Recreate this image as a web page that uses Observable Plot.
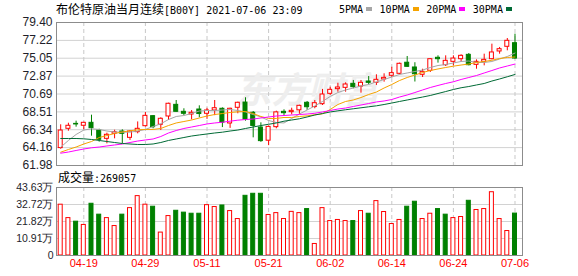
<!DOCTYPE html>
<html><head><meta charset="utf-8">
<script src="https://cdn.jsdelivr.net/npm/d3@7"></script>
<script src="https://cdn.jsdelivr.net/npm/@observablehq/plot@0.6"></script>
<style>
html,body{margin:0;padding:0;background:#fff;}
#wrap{position:relative;width:578px;height:276px;overflow:hidden;background:#fff;}
.t{position:absolute;white-space:nowrap;line-height:14px;color:#000;}
.cjk{font-family:"Noto Sans CJK SC";font-size:12px;}
.mono{font-family:"DejaVu Sans Mono";font-size:10px;}
#legend{position:absolute;left:339px;top:2px;height:14px;display:flex;align-items:center;}
#legend .it{display:flex;align-items:center;margin-right:7.5px;}
#legend .sq{width:6px;height:4px;margin-left:3px;}
#p1,#p2{position:absolute;left:0;}
#p1{top:0;} #p2{top:166px;}
</style></head><body><div id="wrap">
<div id="p1"></div><div id="p2"></div>
<div class="t" style="left:56px;top:2px"><span class="cjk">布伦特原油当月连续</span><span class="mono">[B00Y] 2021-07-06 23:09</span></div>
<div id="legend"></div>
<div class="t" style="left:58px;top:170px"><span class="cjk">成交量</span><span class="mono">:269057</span></div>
</div>
<script>
const dates = ["04-14","04-15","04-16","04-19","04-20","04-21","04-22","04-23","04-26","04-27","04-28","04-29","04-30","05-03","05-04","05-05","05-06","05-07","05-10","05-11","05-12","05-13","05-14","05-17","05-18","05-19","05-20","05-21","05-24","05-25","05-26","05-27","05-28","05-31","06-01","06-02","06-03","06-04","06-07","06-08","06-09","06-10","06-11","06-14","06-15","06-16","06-17","06-18","06-21","06-22","06-23","06-24","06-25","06-28","06-29","06-30","07-01","07-02","07-05","07-06"];
const open = [64.10,66.45,67.05,66.82,67.18,66.24,65.23,65.84,66.12,65.35,66.04,66.77,67.99,66.94,67.95,69.37,68.52,68.19,68.80,68.28,68.68,68.89,67.10,69.01,69.65,68.40,66.60,65.00,66.65,68.52,68.48,68.70,69.62,69.10,69.45,70.71,71.28,71.44,71.93,71.60,72.21,72.05,72.46,72.91,73.15,74.50,73.92,73.03,73.51,75.10,74.20,74.61,74.93,75.46,74.24,74.61,74.93,75.87,76.44,76.88];
const high = [66.94,67.13,67.38,67.25,68.11,66.40,65.92,66.28,66.33,66.24,67.29,68.44,68.07,67.79,69.57,69.90,68.89,68.68,69.25,68.95,69.90,69.00,68.96,69.70,70.23,68.56,67.18,66.80,68.60,68.76,68.96,69.33,69.78,69.90,71.25,71.52,72.00,72.05,72.34,72.34,72.82,73.03,73.15,73.95,74.45,75.26,74.50,73.71,75.01,75.34,75.34,75.34,75.46,75.62,74.85,75.54,76.76,76.36,77.45,77.98];
const low = [63.96,66.16,66.65,66.33,65.55,64.82,64.62,65.23,64.62,65.03,65.84,66.65,66.45,66.24,67.46,68.48,68.07,67.54,67.80,67.60,68.05,66.60,66.50,68.28,67.38,65.35,64.80,64.40,66.45,67.99,68.15,68.19,68.70,68.89,69.29,70.51,70.91,70.91,71.32,70.79,71.81,71.73,72.13,72.66,73.03,73.95,72.15,72.70,73.31,74.45,74.04,74.12,74.53,74.12,73.71,74.12,74.85,75.54,75.95,74.93];
const close = [66.24,66.82,66.98,67.18,66.53,65.11,65.72,66.04,65.84,66.12,66.45,68.03,66.65,67.67,69.50,68.52,68.28,68.40,68.25,68.68,68.96,67.20,68.89,69.62,67.58,66.80,64.95,66.68,68.45,68.35,68.64,69.25,69.08,69.57,70.63,71.20,71.48,71.85,71.52,72.05,72.05,72.42,72.66,73.23,74.37,74.00,73.10,73.39,74.93,74.93,74.73,75.01,75.34,74.20,74.61,74.85,75.75,76.15,77.17,75.01];
const ma5 = [64.21,65.03,65.76,66.30,66.45,66.37,66.18,66.06,66.04,66.04,66.18,66.37,66.73,67.06,67.58,67.95,68.07,68.31,68.62,68.68,68.68,68.74,68.80,68.68,68.50,68.19,67.89,67.46,67.22,67.16,67.71,68.25,68.74,69.23,69.78,70.39,70.87,71.18,71.42,71.66,71.85,72.15,72.46,72.76,73.07,73.25,73.43,73.61,73.92,74.16,74.28,74.47,74.65,74.71,74.53,74.53,74.65,74.95,75.26,75.68];
const ma10 = [63.60,63.93,64.23,64.60,64.90,65.39,65.63,65.88,66.06,66.21,66.33,66.37,66.37,66.49,66.85,67.16,67.34,67.52,67.77,68.01,68.19,68.31,68.44,68.52,68.56,68.31,67.95,67.71,67.71,67.83,67.83,67.95,68.03,68.16,68.28,68.80,69.41,69.78,69.96,70.26,70.63,70.93,71.42,71.85,72.33,72.70,73.00,73.31,73.55,73.74,73.92,74.08,74.22,74.34,74.53,74.65,74.80,75.01,75.14,75.20];
const ma20 = [63.48,63.62,63.81,63.99,64.14,64.23,64.36,64.48,64.60,64.78,64.96,65.09,65.21,65.51,65.94,66.24,66.49,66.67,66.85,67.04,67.16,67.25,67.38,67.50,67.58,67.64,67.77,67.89,68.01,68.07,68.13,68.19,68.25,68.34,68.50,68.68,68.86,68.98,69.17,69.35,69.53,69.72,69.84,70.02,70.32,70.57,70.87,71.18,71.48,71.73,71.97,72.18,72.46,72.70,72.94,73.25,73.55,73.86,74.10,74.34];
const ma30 = [65.27,65.27,65.27,65.23,65.15,65.03,64.90,64.78,64.66,64.60,64.54,64.54,64.60,64.78,65.03,65.21,65.39,65.57,65.70,65.82,65.94,66.04,66.18,66.30,66.49,66.67,66.85,67.00,67.16,67.38,67.52,67.67,67.89,68.13,68.31,68.50,68.64,68.77,68.89,69.01,69.13,69.25,69.41,69.59,69.78,69.96,70.14,70.32,70.51,70.75,70.99,71.24,71.45,71.60,71.79,71.97,72.27,72.52,72.79,73.07];
const volume = [32.6,24.0,21.7,19.6,33.2,26.2,24.0,18.9,26.2,30.4,38.1,32.6,31.3,14.7,25.3,28.7,27.5,26.8,26.8,32.3,31.1,32.1,28.5,23.4,38.3,39.6,39.6,26.0,27.2,23.4,28.0,27.2,29.8,7.4,30.4,22.1,22.8,22.1,22.1,28.5,26.8,34.9,27.9,20.2,22.8,31.3,34.5,23.4,26.8,29.8,26.2,24.0,24.7,35.1,29.2,29.8,40.6,23.4,15.7,26.9];
const volumeUp = [1,1,0,1,0,0,1,1,0,1,1,1,0,1,1,0,0,0,0,1,1,0,1,1,0,0,0,1,1,1,1,1,0,1,1,1,1,1,0,1,0,1,1,1,1,0,0,1,1,0,0,1,1,0,1,1,1,1,1,0];
const priceTicks = [61.98,64.16,66.34,68.51,70.69,72.87,75.05,77.22,79.40];
const volumeTicks = [0,10.91,21.82,32.72,43.63];
const dateTicks = ["04-19","04-29","05-11","05-21","06-02","06-14","06-24","07-06"];
const maNames = ["5PMA","10PMA","20PMA","30PMA"];
const maColors = ["#a6a6a6","#f5a300","#ff00ff","#006a35"];
const maSeries = [ma5, ma10, ma20, ma30];

const RED = "#ff0000", GREEN = "#008000";
const rows = dates.map((d, i) => ({
  d, o: open[i], h: high[i], l: low[i], c: close[i], up: close[i] >= open[i],
  v: volume[i], vu: volumeUp[i] === 1
}));
const maRows = maSeries.flatMap((s, k) => s.map((v, i) => ({d: dates[i], v, k: maNames[k]})));

// legend
const lg = document.getElementById("legend");
maNames.forEach((n, k) => {
  const it = document.createElement("div");
  it.className = "it";
  it.innerHTML = `<span class="mono">${n}</span><span class="sq" style="background:${maColors[k]}"></span>`;
  lg.appendChild(it);
});

const xScale = {type: "band", domain: dates, range: [57.7, 517], paddingInner: 0.35, paddingOuter: 0, axis: null};
const baseStyle = {background: "transparent", overflow: "visible", fontFamily: "'Liberation Sans', Arial, sans-serif", fontSize: "12px"};

const p1 = Plot.plot({
  width: 578, height: 176, marginLeft: 56, marginRight: 56, marginTop: 22, marginBottom: 11,
  style: baseStyle,
  x: xScale,
  y: {domain: [61.98, 79.40], axis: null},
  color: {domain: maNames, range: maColors},
  marks: [
    Plot.ruleY(priceTicks, {stroke: "#d2d2d2"}),
    Plot.ruleX(dateTicks, {x: d => d, stroke: "#c8c8c8", strokeDasharray: "4,3"}),
    Plot.text(["东方财富"], {frameAnchor: "middle", dx: 18, dy: -3, fontSize: 36, fontWeight: "bold", fontStyle: "italic", fill: "#eeeeee", fontFamily: "Noto Sans CJK SC"}),
    Plot.ruleX(rows, {x: "d", y1: "l", y2: "h", stroke: d => d.up ? RED : GREEN}),
    Plot.barY(rows, {x: "d", y1: "o", y2: "c", fill: d => d.up ? "#ffffff" : GREEN, stroke: d => d.up ? RED : GREEN, insetLeft: 0.5, insetRight: 0.5}),
    Plot.lineY(maRows, {x: "d", y: "v", z: "k", stroke: "k", strokeWidth: 1}),
    Plot.frame({stroke: "#8c8c8c"}),
    Plot.text(priceTicks, {y: d => d, text: d => d.toFixed(2), frameAnchor: "left", dx: -4, textAnchor: "end", fill: "#1e1e2a"})
  ]
});
document.getElementById("p1").appendChild(p1);

const p2 = Plot.plot({
  width: 578, height: 110, marginLeft: 56, marginRight: 56, marginTop: 21, marginBottom: 21,
  style: baseStyle,
  x: xScale,
  y: {domain: [0, 43.63], axis: null},
  marks: [
    Plot.ruleY(volumeTicks, {stroke: "#d2d2d2"}),
    Plot.ruleX(dateTicks, {x: d => d, stroke: "#c8c8c8", strokeDasharray: "4,3"}),
    Plot.barY(rows, {x: "d", y: "v", fill: d => d.vu ? "#ffffff" : GREEN, stroke: d => d.vu ? RED : GREEN, insetLeft: 0.5, insetRight: 0.5}),
    Plot.frame({stroke: "#8c8c8c"}),
    Plot.text(volumeTicks, {y: d => d, text: d => d === 0 ? "0" : d.toFixed(2) + "万", frameAnchor: "left", dx: -3, textAnchor: "end", fill: "#1e1e2a", fontSize: 10.5}),
    Plot.text(dateTicks, {x: d => d, text: d => d, frameAnchor: "bottom", dy: 11, fill: RED, fontSize: 11})
  ]
});
document.getElementById("p2").appendChild(p2);
</script>
</body></html>
